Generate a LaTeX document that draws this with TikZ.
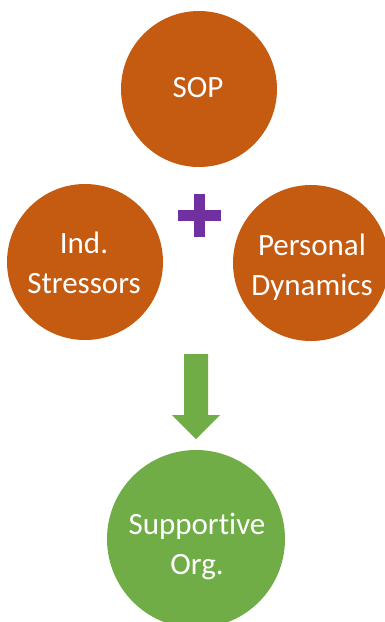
\documentclass[tikz,border=0pt]{standalone}
\usepackage{fontspec}
\setmainfont[Ligatures=NoCommon,RawFeature=-liga]{Carlito}
\definecolor{orgc}{HTML}{C55A11}
\definecolor{grnc}{HTML}{70AD47}
\definecolor{purc}{HTML}{7030A0}
\begin{document}
\begin{tikzpicture}[x=1pt,y=-1pt,
  ball/.style={circle,inner sep=0pt,minimum size=#1,draw=none},
  lbl/.style={text=white,align=center,font=\fontsize{31}{40}\selectfont,inner sep=0pt}]
\useasboundingbox (0,0) rectangle (385,622);
\clip (0,0) rectangle (385,622);
\fill[white] (0,0) rectangle (385,622);
% circles
\node[ball=156pt,fill=orgc] (sop) at (199,89) {};
\node[ball=156pt,fill=orgc] (ind) at (85,262) {};
\node[ball=156pt,fill=orgc] (pd) at (311,263) {};
\node[ball=178pt,fill=grnc] (sup) at (196,539) {};
% labels
\node[lbl] (sopt) at (198,88) {SOP};
\node[lbl] (indt) at (84,263) {Ind.\\Stressors};
\node[lbl] (pdt) at (312,267) {Personal\\Dynamics};
\node[lbl] (supt) at (197,546) {Supportive\\Org.};
% plus sign
\fill[purc] (178,210) rectangle (221,221);
\fill[purc] (194,194) rectangle (205,237);
% block arrow
\coordinate (atip) at (196,439);
\fill[grnc] (184,354) -- (208,354) -- (208,415) -- (220,415) -- (atip) -- (172,415) -- (184,415) -- cycle;
\end{tikzpicture}
\end{document}
